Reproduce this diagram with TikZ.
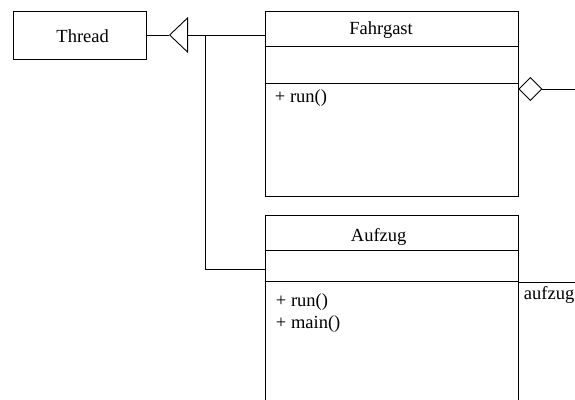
\documentclass[tikz,border=0pt]{standalone}
\usepackage{fontspec}
\setmainfont{Liberation Serif}
\usetikzlibrary{arrows.meta}
\begin{document}
\begin{tikzpicture}[x=1pt,y=-1pt, line width=0.9pt,
  font=\fontsize{18.5}{22}\selectfont,
  box/.style={draw, rectangle, inner sep=0pt},
  txt/.style={anchor=base west, inner sep=0pt}]
\useasboundingbox (0,0) rectangle (575,399);
\clip (0,0) rectangle (575,399);
% classes
\node[box, minimum width=133pt, minimum height=48pt] (thread) at (79.5,35) {};
\node[box, minimum width=253pt, minimum height=185pt] (fahrgast) at (391.5,103.5) {};
\node[box, minimum width=253pt, minimum height=215pt] (aufzug) at (391.5,322.5) {};
% compartments
\draw (fahrgast.north west) ++(0,36) -- ++(253,0);
\draw (fahrgast.north west) ++(0,73) -- ++(253,0);
\draw (aufzug.north west) ++(0,36) -- ++(253,0);
\draw (aufzug.north west) ++(0,67) -- ++(253,0);
% texts
\node[txt] (tthread) at (56,42) {Thread};
\node[txt] (tfahrgast) at (349,34.5) {Fahrgast};
\node[txt] (frun) at (274.5,102.5) {+ run()};
\node[txt] (taufzug) at (350.5,241) {Aufzug};
\node[txt] (arun) at (275.5,306.5) {+ run()};
\node[txt] (amain) at (275.5,328.5) {+ main()};
% generalization
\coordinate (tri) at (169,35);
\coordinate (ay) at (0,269);
\coordinate (jn) at (205,35);
\draw (thread.east) -- (tri);
\draw[-{Triangle[open, length=19pt, width=36pt]}] (fahrgast.west |- tri) -- (tri);
\draw (aufzug.west |- ay) -| (jn);
% aggregation
\coordinate (dend) at (575,89);
\draw[{Diamond[open, length=24pt, width=24pt]}-] (fahrgast.east |- dend) -- (dend);
% association end
\coordinate (aend) at (575,282);
\draw (aufzug.east |- aend) -- (aend);
\node[txt] (role) at (523.5,299) {aufzug};
\end{tikzpicture}
\end{document}
